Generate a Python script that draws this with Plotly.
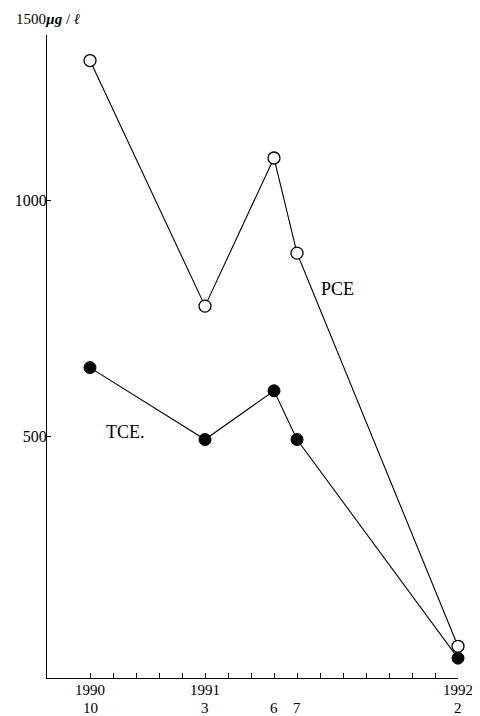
import plotly.graph_objects as go

# months since 1990-10
months = [0, 5, 8, 9, 16]
pce = [1295, 776, 1089, 888, 57]
tce = [646, 494, 597, 494, 32]

tick_months = list(range(17))
year_labels = ["1990", "", "", "", "", "1991", "", "", "", "",
               "", "", "", "", "", "", "1992"]
month_label_pos = [0, 5, 8, 9, 16]
month_labels = ["10", "3", "6", "7", "2"]
y_ticks = [500, 1000]

fig = go.Figure()
fig.add_trace(go.Scatter(
    x=months, y=pce, mode="lines+markers", name="PCE",
    line=dict(color="black", width=1.1),
    marker=dict(symbol="circle", size=12, color="white", line=dict(color="black", width=1.3)),
    cliponaxis=False,
))
fig.add_trace(go.Scatter(
    x=months, y=tce, mode="lines+markers", name="TCE",
    line=dict(color="black", width=1.1),
    marker=dict(symbol="circle", size=12, color="black", line=dict(color="black", width=1)),
    cliponaxis=False,
))

serif = "Liberation Serif, Times New Roman, serif"

annotations = [
    dict(text="1500<i><b>µg</b></i> / <i>ℓ</i>", xref="paper", yref="paper",
         x=-0.08, y=1.0, yshift=6, xanchor="left", yanchor="bottom",
         showarrow=False, font=dict(family=serif, size=15, color="black")),
    dict(text="PCE", x=10.78, y=812, xanchor="center", yanchor="middle",
         showarrow=False, font=dict(family=serif, size=18, color="black")),
    dict(text="TCE.", x=1.55, y=510, xanchor="center", yanchor="middle",
         showarrow=False, font=dict(family=serif, size=18, color="black")),
]
for mx, ml in zip(month_label_pos, month_labels):
    annotations.append(dict(
        text=ml, x=mx, xref="x", y=0, yref="paper", yshift=-20,
        xanchor="center", yanchor="top", showarrow=False,
        font=dict(family=serif, size=15, color="black")))

fig.update_layout(
    width=472, height=708,
    margin=dict(l=39, r=22, t=27, b=38, autoexpand=False),
    paper_bgcolor="white", plot_bgcolor="white",
    showlegend=False,
    font=dict(family=serif, color="black", size=15),
    xaxis=dict(
        range=[-1.87, 16.0], showgrid=False, zeroline=False, automargin=False,
        showline=True, linecolor="black", linewidth=1.2,
        tickmode="array", tickvals=tick_months, ticktext=year_labels,
        ticks="inside", ticklen=5, tickcolor="black", tickwidth=1,
        tickfont=dict(family=serif, size=15), tickangle=0, ticklabelstandoff=-2,
    ),
    yaxis=dict(
        range=[-10, 1349], showgrid=False, zeroline=False, automargin=False,
        showline=True, linecolor="black", linewidth=1.2,
        tickmode="array", tickvals=y_ticks, ticktext=[str(v) for v in y_ticks],
        ticks="inside", ticklen=4, tickcolor="black", tickwidth=1,
        tickfont=dict(family=serif, size=16), ticklabelstandoff=-4,
    ),
    annotations=annotations,
)

fig.write_html("out.html")
